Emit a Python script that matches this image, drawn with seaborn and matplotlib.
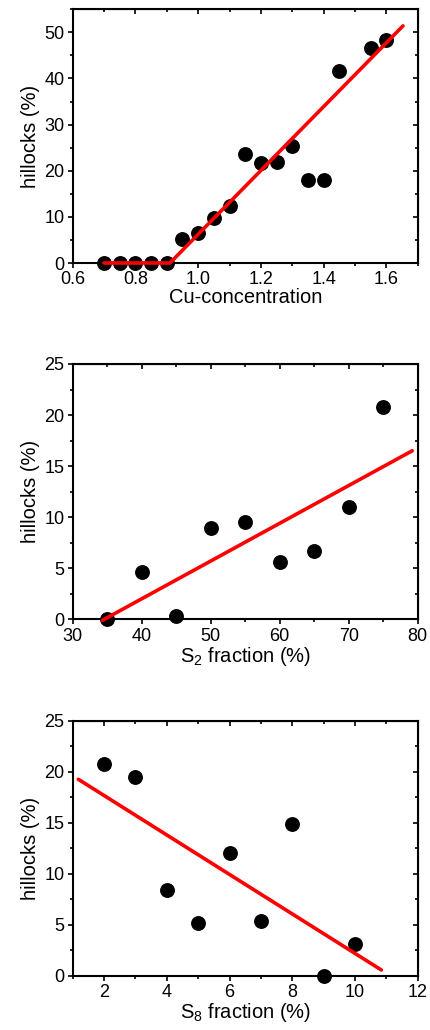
import matplotlib
matplotlib.use("Agg")
import matplotlib.pyplot as plt
import seaborn as sns
import numpy as np
import pandas as pd
from matplotlib.ticker import MultipleLocator, FuncFormatter

# ---- data ----
cu_x = [0.70, 0.75, 0.80, 0.85, 0.90, 0.95, 1.00, 1.05, 1.10, 1.15, 1.20, 1.25, 1.30, 1.35, 1.40, 1.45, 1.55, 1.60]
cu_y = [0, 0, 0, 0, 0, 5.1, 6.5, 9.7, 12.4, 23.6, 21.6, 21.9, 25.3, 17.9, 18.0, 41.6, 46.7, 48.3]
cu_fit_x = [0.70, 0.91, 1.653]
cu_fit_y = [0, 0, 51.4]

s2_x = [35, 40, 45, 50, 55, 60, 65, 70, 75]
s2_y = [0, 4.67, 0.33, 8.97, 9.56, 5.58, 6.69, 11.03, 20.8]
s2_fit_x = [34.3, 79.2]
s2_fit_y = [-0.1, 16.5]

s8_x = [2, 3, 4, 5, 6, 7, 8, 9, 10]
s8_y = [20.8, 19.5, 8.4, 5.2, 12.0, 5.4, 14.9, 0, 3.15]
s8_fit_x = [1.18, 10.84]
s8_fit_y = [19.26, 0.59]

sns.set_style("ticks")
plt.rcParams['font.family'] = ['Liberation Sans', 'DejaVu Sans']
plt.rcParams['mathtext.fontset'] = 'custom'
plt.rcParams['mathtext.rm'] = 'Liberation Sans'
plt.rcParams['mathtext.it'] = 'Liberation Sans:italic'
for k in ['text.color', 'axes.labelcolor', 'xtick.color', 'ytick.color', 'axes.edgecolor']:
    plt.rcParams[k] = 'black'

fig = plt.figure(figsize=(4.3, 10.3), dpi=100)
W, H = 430, 1030

def mk_ax(top, bottom):
    return fig.add_axes([72.7 / W, 1 - bottom / H, 345 / W, (bottom - top) / H])

panels = [
    (9.3, 263.0, cu_x, cu_y, cu_fit_x, cu_fit_y, (0.6, 1.7), (0, 55), 0.2, 0.1, 10, 5,
     "Cu-concentration", lambda v: f"{v:.1f}"),
    (364.0, 619.3, s2_x, s2_y, s2_fit_x, s2_fit_y, (30, 80), (0, 25), 10, 5, 5, 2.5,
     r"S$_2$ fraction (%)", lambda v: f"{v:.0f}"),
    (720.7, 976.0, s8_x, s8_y, s8_fit_x, s8_fit_y, (1, 12), (0, 25), 2, 1, 5, 2.5,
     r"S$_8$ fraction (%)", lambda v: f"{v:.0f}"),
]

TICK_FS = 13
LAB_FS = 14.5
MAJ, MIN = 3.5, 2.0

for (top, bottom, x, y, fx, fy, xl, yl, xmaj, xmin, ymaj, ymin, xlab, fmt) in panels:
    ax = mk_ax(top, bottom)
    df = pd.DataFrame({"x": x, "y": y})
    sns.scatterplot(data=df, x="x", y="y", ax=ax, color="black", s=115,
                    edgecolor="black", linewidth=0, zorder=3, clip_on=False)
    dff = pd.DataFrame({"x": fx, "y": fy})
    sns.lineplot(data=dff, x="x", y="y", ax=ax, color="#ff0000", linewidth=2.6,
                 zorder=4, sort=False, estimator=None)
    ax.lines[-1].set_clip_on(False)
    ax.set_xlim(*xl)
    ax.set_ylim(*yl)
    ax.xaxis.set_major_locator(MultipleLocator(xmaj))
    ax.xaxis.set_minor_locator(MultipleLocator(xmin))
    ax.yaxis.set_major_locator(MultipleLocator(ymaj))
    ax.yaxis.set_minor_locator(MultipleLocator(ymin))
    ax.xaxis.set_major_formatter(FuncFormatter(lambda v, p, f=fmt: f(v)))
    for sp in ax.spines.values():
        sp.set_visible(True)
        sp.set_linewidth(1.5)
        sp.set_color("black")
    ax.tick_params(which="both", direction="out", width=1.2, color="black",
                   labelsize=TICK_FS, pad=2.5, labelcolor="black")
    ax.tick_params(which="major", length=MAJ)
    ax.tick_params(which="minor", length=MIN)
    axt = ax.secondary_xaxis("top")
    axt.xaxis.set_major_locator(MultipleLocator(xmaj))
    axt.xaxis.set_minor_locator(MultipleLocator(xmin))
    axt.tick_params(which="both", direction="in", width=1.2, labeltop=False, color="black")
    axt.tick_params(which="major", length=MAJ)
    axt.tick_params(which="minor", length=MIN)
    axr = ax.secondary_yaxis("right")
    axr.yaxis.set_major_locator(MultipleLocator(ymaj))
    axr.yaxis.set_minor_locator(MultipleLocator(ymin))
    axr.tick_params(which="both", direction="in", width=1.2, labelright=False, color="black")
    axr.tick_params(which="major", length=MAJ)
    axr.tick_params(which="minor", length=MIN)
    ax.set_xlabel(xlab, fontsize=LAB_FS, labelpad=0, color="black")
    ax.set_ylabel("hillocks (%)", fontsize=LAB_FS, labelpad=3, color="black")

fig.savefig("out.png", dpi=100)
